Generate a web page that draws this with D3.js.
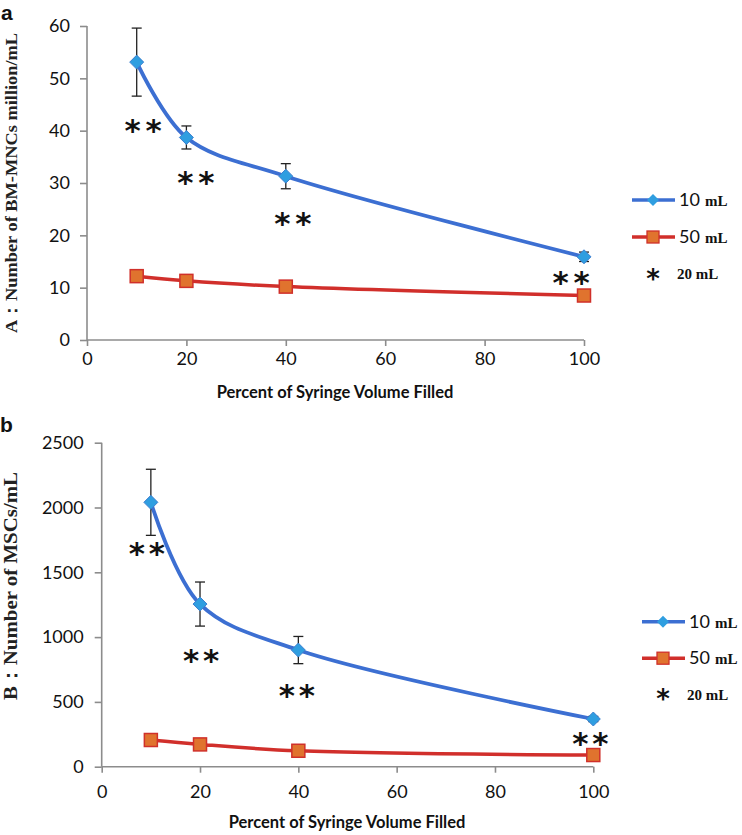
<!DOCTYPE html>
<html><head><meta charset="utf-8">
<script src="https://cdn.jsdelivr.net/npm/d3@7"></script>
<style>body{margin:0;background:#fff}svg{display:block}</style>
</head><body>
<svg id="c" width="742" height="835"></svg>
<script>
// ---- data ----
const xValues = [10, 20, 40, 100];
const xTicks = [0, 20, 40, 60, 80, 100];
// Panel a: BM-MNCs million/mL
const a10 = [53.1, 38.7, 31.3, 15.9];
const a10Err = [6.5, 2.2, 2.4, 0.9];
const a50 = [12.2, 11.3, 10.2, 8.5];
const aTicks = [0, 10, 20, 30, 40, 50, 60];
const aStarX = [11.3, 21.9, 41.4, 97.4];
const aStarY = [41.1, 31.1, 23.3, 12.0];
// Panel b: MSCs/mL
const b10 = [2040, 1255, 900, 368];
const b10Err = [255, 170, 105, 20];
const b50 = [206, 172, 123, 90];
const bTicks = [0, 500, 1000, 1500, 2000, 2500];
const bStarX = [9.2, 20.2, 39.7, 99.4];
const bStarY = [1688, 862, 592, 221];
const legendLabels = ["10", "50", "20"];

const svg = d3.select("#c");
svg.append("rect").attr("width",742).attr("height",835).attr("fill","#fff");

function star(g, cx, cy, size){
  g.append("text").attr("x",cx).attr("y",cy + size*0.52).attr("text-anchor","middle")
    .attr("font-family","'DejaVu Sans', sans-serif").attr("font-weight","bold")
    .attr("font-size",size).attr("fill","#111").text("*");
}

function panel(o){
  const g = svg.append("g");
  const x = d3.scaleLinear().domain([0,100]).range(o.xr);
  const y = d3.scaleLinear().domain(o.yd).range(o.yr);
  const axisColor = "#8c8c8c";
  const ya = g.append("g").attr("transform",`translate(${o.xr[0]},0)`)
    .call(d3.axisLeft(y).tickValues(o.yTicks).tickSize(7).tickPadding(o.yPad).tickFormat(d3.format("d")));
  const xa = g.append("g").attr("transform",`translate(0,${o.yr[0]})`)
    .call(d3.axisBottom(x).tickValues(xTicks).tickSize(6).tickPadding(o.xPad));
  [ya,xa].forEach(a=>{
    a.select(".domain").attr("stroke",axisColor).attr("stroke-width",1.6);
    a.selectAll(".tick line").attr("stroke",axisColor).attr("stroke-width",1.6);
    a.selectAll(".tick text").attr("fill","#111").attr("font-family","Lato, 'Open Sans', sans-serif").attr("font-size",18);
  });
  xa.select(".domain").attr("d",`M${o.xr[0]},0H${o.xr[1]}`);
  ya.select(".domain").attr("d",`M0,${o.yr[1]}V${o.yr[0]}`);

  g.append("text").attr("x",o.xTitleX).attr("y",o.xTitleY).attr("text-anchor","middle")
    .attr("font-family","Lato, 'Open Sans', sans-serif").attr("font-weight","bold").attr("font-size",16.5)
    .attr("fill","#111").text("Percent of Syringe Volume Filled");
  g.append("text").attr("transform",`translate(${o.yTitleX},${o.yTitleY}) rotate(-90)`)
    .attr("text-anchor","middle").attr("font-family","'Liberation Serif', serif").attr("font-weight","bold")
    .attr("font-size",o.yTitleSize).attr("fill","#222").attr("textLength",o.yTitleLen).attr("lengthAdjust","spacingAndGlyphs")
    .text(o.yTitle);
  g.append("text").attr("x",o.letterX).attr("y",o.letterY).attr("font-family","'Liberation Sans', Arial, sans-serif")
    .attr("font-weight","bold").attr("font-size",21).attr("fill","#111").text(o.letter);

  const line = d3.line().x((d,i)=>x(xValues[i])).y(d=>y(d)).curve(d3.curveCatmullRom.alpha(0.5));
  g.append("path").attr("d",line(o.s50)).attr("fill","none").attr("stroke","#d12f2b").attr("stroke-width",3.5);
  g.append("path").attr("d",line(o.s10)).attr("fill","none").attr("stroke","#3c6fd2").attr("stroke-width",3.8);
  o.s10.forEach((v,i)=>{
    const cx = x(xValues[i]);
    const t = y(v+o.err[i]), b = y(v-o.err[i]);
    g.append("line").attr("x1",cx).attr("x2",cx).attr("y1",t).attr("y2",b).attr("stroke","#222").attr("stroke-width",1.3);
    [t,b].forEach(yy=>g.append("line").attr("x1",cx-5).attr("x2",cx+5).attr("y1",yy).attr("y2",yy).attr("stroke","#222").attr("stroke-width",1.3));
  });
  o.s10.forEach((v,i)=>{
    const cx=x(xValues[i]), cy=y(v);
    g.append("path").attr("d",`M${cx},${cy-7}L${cx+7},${cy}L${cx},${cy+7}L${cx-7},${cy}Z`)
      .attr("fill","#2f9ee0").attr("stroke","#3c7fd0").attr("stroke-width",1);
  });
  o.s50.forEach((v,i)=>{
    const cx=x(xValues[i]), cy=y(v);
    g.append("rect").attr("x",cx-6.5).attr("y",cy-6.5).attr("width",13).attr("height",13)
      .attr("fill","#e0732e").attr("stroke","#d0302a").attr("stroke-width",1.5);
  });
  o.starX.forEach((sx,i)=>{
    const cx = x(sx), cy = y(o.starY[i]);
    star(g, cx - o.starSep/2, cy, 31);
    star(g, cx + o.starSep/2, cy, 31);
  });
  const lx = o.legX, ly = o.legY;
  g.append("line").attr("x1",lx).attr("x2",lx+43).attr("y1",ly).attr("y2",ly).attr("stroke","#3c6fd2").attr("stroke-width",3.5);
  g.append("path").attr("d",`M${lx+21},${ly-6}L${lx+27},${ly}L${lx+21},${ly+6}L${lx+15},${ly}Z`).attr("fill","#2f9ee0");
  g.append("line").attr("x1",lx).attr("x2",lx+43).attr("y1",ly+o.legGap).attr("y2",ly+o.legGap).attr("stroke","#d12f2b").attr("stroke-width",3.5);
  g.append("rect").attr("x",lx+15).attr("y",ly+o.legGap-6).attr("width",12).attr("height",12).attr("fill","#e0732e").attr("stroke","#d0302a").attr("stroke-width",1.3);
  [0,1].forEach(k=>{
    const t = g.append("text").attr("x",lx+47).attr("y",ly+k*o.legGap+6).attr("fill","#111");
    t.append("tspan").attr("font-family","Lato, sans-serif").attr("font-size",18).text(legendLabels[k]);
    t.append("tspan").attr("dx",5).attr("font-family","'Liberation Serif', serif").attr("font-weight","bold").attr("font-size",15).text("mL");
  });
  star(g, lx+21, ly+2*o.legGap, 26);
  g.append("text").attr("x",lx+45).attr("y",ly+2*o.legGap+5).attr("font-family","'Liberation Serif', serif")
    .attr("font-weight","bold").attr("fill","#111").attr("font-size",15).text(legendLabels[2]+" mL");
}

panel({xr:[87,584], yr:[340,26], yd:[0,60], yTicks:aTicks, yPad:10, xPad:6,
  xTitleX:335, xTitleY:398, yTitleX:17, yTitleY:183, yTitleSize:16.5, yTitleLen:300,
  yTitle:"A：Number of BM-MNCs million/mL", letter:"a", letterX:1, letterY:20,
  s10:a10, err:a10Err, s50:a50, starX:aStarX, starY:aStarY, starSep:21,
  legX:632, legY:200, legGap:37});
panel({xr:[101.7,593.3], yr:[766.7,442.7], yd:[0,2500], yTicks:bTicks, yPad:11, xPad:13,
  xTitleX:347, xTitleY:828, yTitleX:17, yTitleY:586, yTitleSize:19, yTitleLen:228,
  yTitle:"B：Number of MSCs/mL", letter:"b", letterX:0, letterY:432,
  s10:b10, err:b10Err, s50:b50, starX:bStarX, starY:bStarY, starSep:20,
  legX:642, legY:621.7, legGap:36.5});
</script>
</body></html>
